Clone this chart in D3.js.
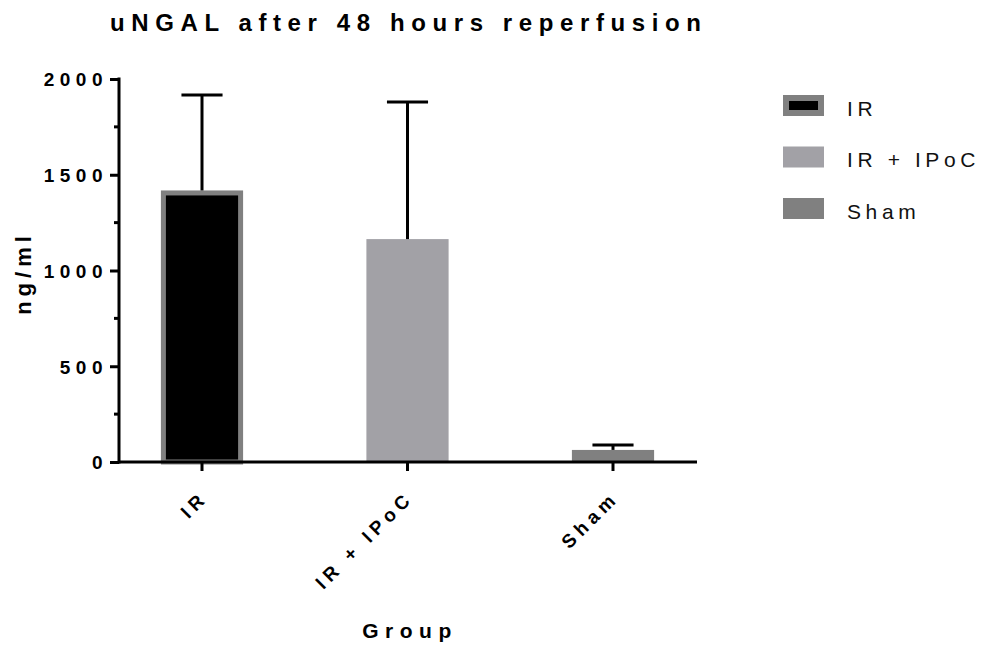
<!DOCTYPE html>
<html>
<head>
<meta charset="utf-8">
<script src="https://cdn.jsdelivr.net/npm/d3@7"></script>
<style>
  body { margin: 0; background: #fff; }
  svg { font-family: "Liberation Sans", Arial, sans-serif; }
</style>
</head>
<body>
<div id="chart"></div>
<script>
const groups = ["IR", "IR + IPoC", "Sham"];
const means = [1405, 1164, 63];
const upperErr = [1916, 1880, 89];
const fills = ["#000000", "#a2a1a6", "#808080"];
const strokes = ["#808080", "none", "none"];
const yTicks = [0, 500, 1000, 1500, 2000];
const yMinorTicks = [250, 750, 1250, 1750];

const width = 987, height = 649;

const svg = d3.select("#chart")
  .append("svg")
  .attr("width", width)
  .attr("height", height);

const x = d3.scaleBand()
  .domain(groups)
  .range([99.25, 715.75])
  .paddingInner(0.6)
  .paddingOuter(0.3);

const y = d3.scaleLinear()
  .domain([0, 2000])
  .range([462, 79]);

// bars
svg.selectAll("rect.bar")
  .data(groups)
  .enter()
  .append("rect")
  .attr("class", "bar")
  .attr("x", (d, i) => x(d) + (strokes[i] === "none" ? 0 : 2.5))
  .attr("y", (d, i) => y(means[i]))
  .attr("width", (d, i) => x.bandwidth() - (strokes[i] === "none" ? 0 : 5))
  .attr("height", (d, i) => y(0) - y(means[i]))
  .style("fill", (d, i) => fills[i])
  .style("stroke", (d, i) => strokes[i])
  .style("stroke-width", 5);

// error bars
const cap = x.bandwidth() / 2;
svg.selectAll("line.err")
  .data(groups)
  .enter()
  .append("line")
  .attr("x1", d => x(d) + x.bandwidth() / 2)
  .attr("x2", d => x(d) + x.bandwidth() / 2)
  .attr("y1", (d, i) => y(means[i]) - (strokes[i] === "none" ? 0 : 2.5))
  .attr("y2", (d, i) => y(upperErr[i]))
  .style("stroke", "#000")
  .style("stroke-width", 3);

svg.selectAll("line.cap")
  .data(groups)
  .enter()
  .append("line")
  .attr("x1", d => x(d) + x.bandwidth() / 2 - cap / 2)
  .attr("x2", d => x(d) + x.bandwidth() / 2 + cap / 2)
  .attr("y1", (d, i) => y(upperErr[i]))
  .attr("y2", (d, i) => y(upperErr[i]))
  .style("stroke", "#000")
  .style("stroke-width", 3);

// y axis
const yAxis = svg.append("g")
  .attr("transform", "translate(119,0)")
  .call(d3.axisLeft(y).tickValues(yTicks).tickFormat(d3.format("d"))
    .tickSize(9).tickPadding(2).tickSizeOuter(0));
yAxis.select(".domain").style("stroke-width", 3).attr("d", `M0,${y(2000) - 1.5}V${y(0) + 1.5}`);
yAxis.selectAll(".tick line").style("stroke-width", 3);
yAxis.selectAll(".tick text")
  .style("font-size", "19px")
  .style("font-weight", "bold")
  .style("letter-spacing", "5.5px")
  .attr("dy", "0.36em")
  .style("fill", "#000");

svg.append("g").selectAll("line")
  .data(yMinorTicks)
  .enter()
  .append("line")
  .attr("x1", 114)
  .attr("x2", 119)
  .attr("y1", d => y(d))
  .attr("y2", d => y(d))
  .style("stroke", "#000")
  .style("stroke-width", 3);

// x axis
const xAxis = svg.append("g")
  .attr("transform", `translate(0,${y(0)})`)
  .call(d3.axisBottom(x).tickSize(9).tickSizeOuter(0));
xAxis.select(".domain").style("stroke-width", 3).attr("d", "M118,0H697");
xAxis.selectAll(".tick line").style("stroke-width", 3);
xAxis.selectAll(".tick text")
  .style("font-size", "19px")
  .style("font-weight", "bold")
  .style("letter-spacing", "5px")
  .style("fill", "#000")
  .attr("text-anchor", "end")
  .attr("dy", null)
  .attr("y", 0)
  .attr("transform", "translate(7,37) rotate(-45)");

// titles
svg.append("text")
  .attr("x", 110)
  .attr("y", 31)
  .style("font-size", "24px")
  .style("font-weight", "bold")
  .style("letter-spacing", "6.6px")
  .text("uNGAL after 48 hours reperfusion");

svg.append("text")
  .attr("transform", "translate(31,273) rotate(-90)")
  .attr("text-anchor", "middle")
  .style("font-size", "22px")
  .style("font-weight", "bold")
  .style("letter-spacing", "5px")
  .text("ng/ml");

svg.append("text")
  .attr("x", 410)
  .attr("y", 638)
  .attr("text-anchor", "middle")
  .style("font-size", "21px")
  .style("font-weight", "bold")
  .style("letter-spacing", "6.5px")
  .text("Group");

// legend
const legend = svg.append("g").attr("transform", "translate(783,95)");
const item = legend.selectAll("g")
  .data(groups)
  .enter()
  .append("g")
  .attr("transform", (d, i) => `translate(0,${i * 51.5})`);
item.append("rect")
  .attr("x", (d, i) => strokes[i] === "none" ? 0 : 3)
  .attr("y", (d, i) => strokes[i] === "none" ? 0 : 3)
  .attr("width", (d, i) => strokes[i] === "none" ? 41 : 35)
  .attr("height", (d, i) => strokes[i] === "none" ? 21 : 15)
  .style("fill", (d, i) => fills[i])
  .style("stroke", (d, i) => strokes[i])
  .style("stroke-width", 6);
item.append("text")
  .attr("x", 64)
  .attr("y", 13)
  .attr("dy", "0.36em")
  .style("font-size", "21px")
  .style("letter-spacing", "4.6px")
  .style("fill", "#111")
  .text(d => d);
</script>
</body>
</html>
